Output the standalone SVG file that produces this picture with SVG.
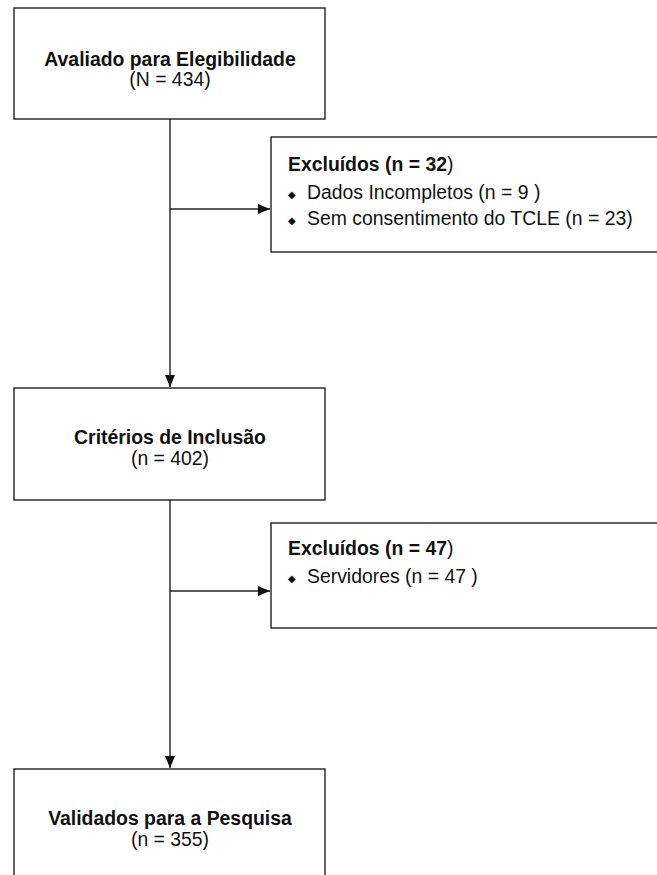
<svg xmlns="http://www.w3.org/2000/svg" width="657" height="875" viewBox="0 0 657 875">
<style>
.box{fill:#fff;stroke:#222;stroke-width:1.4}
.ln{fill:none;stroke:#222;stroke-width:1.4}
text{font-family:"Liberation Sans",Arial,Helvetica,sans-serif;font-size:19.4px;fill:#111}
.b{font-weight:bold}
.c{text-anchor:middle}
.bul{font-family:"DejaVu Sans",sans-serif;font-size:10px}
</style>
<defs>
<marker id="ah" markerWidth="12" markerHeight="10" refX="12" refY="5" orient="auto" markerUnits="userSpaceOnUse">
<path d="M0,0 L12,5 L0,10 Z" fill="#111"/>
</marker>
</defs>
<rect width="657" height="875" fill="#fff"/>
<g id="connectors">
<path class="ln" d="M170,119 V387" marker-end="url(#ah)"/>
<path class="ln" d="M170,209 H270" marker-end="url(#ah)"/>
<path class="ln" d="M170,500 V768" marker-end="url(#ah)"/>
<path class="ln" d="M170,591 H270" marker-end="url(#ah)"/>
</g>
<g id="n1">
<rect class="box" x="14" y="8" width="311" height="111"/>
<text class="b c" x="170" y="66">Avaliado para Elegibilidade</text>
<text class="c" x="170" y="86">(N = 434)</text>
</g>
<g id="n2">
<rect class="box" x="271" y="137" width="400" height="115"/>
<text x="288" y="171"><tspan class="b">Excluídos (n = 32</tspan>)</text>
<text class="bul" x="288" y="198">◆</text>
<text x="307" y="199">Dados Incompletos (n = 9 )</text>
<text class="bul" x="288" y="224">◆</text>
<text x="307" y="225">Sem consentimento do TCLE (n = 23)</text>
</g>
<g id="n3">
<rect class="box" x="14" y="388" width="311" height="112"/>
<text class="b c" x="170" y="444">Critérios de Inclusão</text>
<text class="c" x="170" y="465">(n = 402)</text>
</g>
<g id="n4">
<rect class="box" x="271" y="523" width="400" height="105"/>
<text x="288" y="555"><tspan class="b">Excluídos (n = 47</tspan>)</text>
<text class="bul" x="288" y="582">◆</text>
<text x="307" y="583">Servidores (n = 47 )</text>
</g>
<g id="n5">
<rect class="box" x="14" y="769" width="311" height="120"/>
<text class="b c" x="170" y="825">Validados para a Pesquisa</text>
<text class="c" x="170" y="846">(n = 355)</text>
</g>
</svg>
